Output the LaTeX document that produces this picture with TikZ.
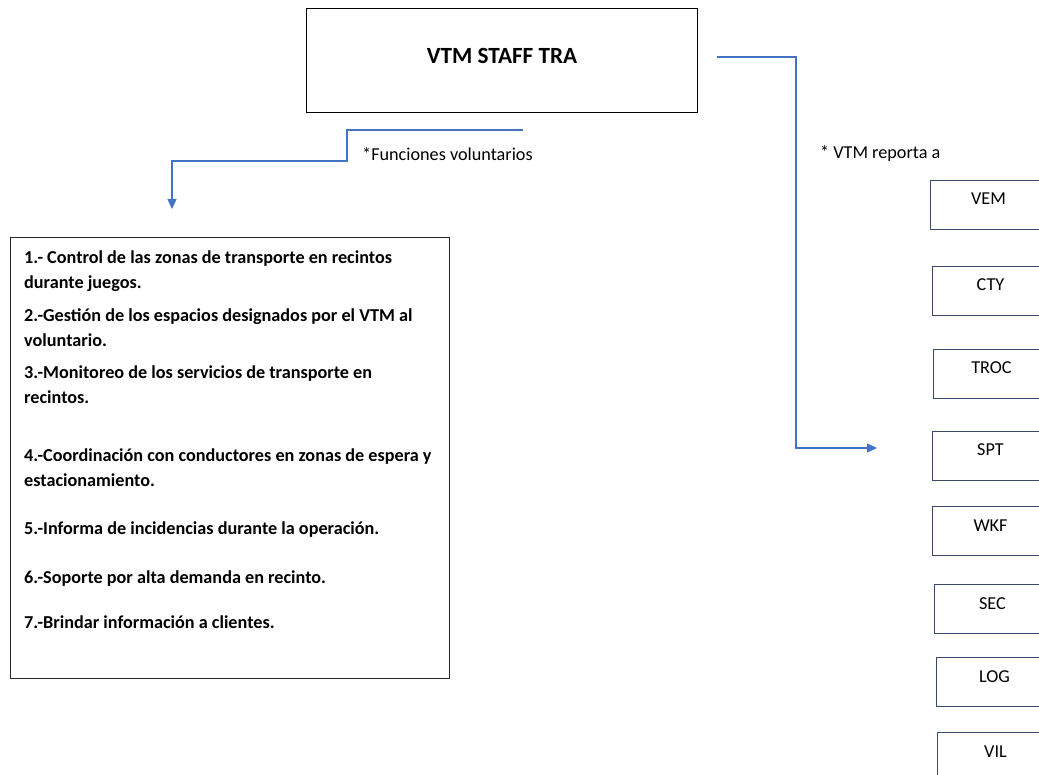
\documentclass[tikz,border=0pt]{standalone}
\usepackage{fontspec}
\setmainfont{Carlito}
\usepackage{xcolor}
\usetikzlibrary{arrows.meta,positioning}
\definecolor{linkcol}{HTML}{4472C4}
\definecolor{unitcol}{HTML}{3A4A6B}
\definecolor{listcol}{HTML}{262626}

\begin{document}
\begin{tikzpicture}[x=1pt, y=-1pt,
  every node/.style={font=\fontsize{18.2}{22}\selectfont},
  head/.style={draw=black, line width=1.1pt, anchor=north west,
               minimum width=391pt, minimum height=104pt,
               text height=16pt, text depth=11pt,
               font=\fontsize{23.2}{27}\selectfont\bfseries},
  unit/.style={draw=unitcol, line width=1pt, anchor=north west,
               minimum width=116pt, minimum height=49pt,
               text height=12pt, text depth=12pt},
  frame/.style={draw=listcol, line width=1.1pt, anchor=north west,
                minimum width=439pt, minimum height=441pt},
  duty/.style={anchor=base west, inner sep=0pt, align=left,
               font=\fontsize{18.2}{25}\selectfont\bfseries},
  note/.style={anchor=west, inner sep=0pt},
  link/.style={draw=linkcol, line width=1.2pt,
               -{Triangle[length=10pt,width=9pt]}}]

  \useasboundingbox (0,0) rectangle (1039,775);
  \clip (0,0) rectangle (1039,775);

  \node[head] (staff) at (306,8) {VTM STAFF TRA};

  % functions of the volunteer
  \node[frame] (duties) at (10,237) {};
  \node[duty] (d1) at (24,289) {1.- Control de las zonas de transporte en recintos\\durante juegos.};
  \node[duty] (d2) at (24,347) {2.-Gestión de los espacios designados por el VTM al\\voluntario.};
  \node[duty] (d3) at (24,404) {3.-Monitoreo de los servicios de transporte en\\recintos.};
  \node[duty] (d4) at (24,486) {4.-Coordinación con conductores en zonas de espera y\\estacionamiento.};
  \node[duty] (d5) at (24,534) {5.-Informa de incidencias durante la operación.};
  \node[duty] (d6) at (24,583) {6.-Soporte por alta demanda en recinto.};
  \node[duty] (d7) at (24,628) {7.-Brindar información a clientes.};

  \node[note] (fnote) at (362,154) {*Funciones voluntarios};
  \node[note] (rnote) at (820,154) {* VTM reporta a};

  % areas the VTM reports to
  \foreach \u/\x/\y in {VEM/930/180, CTY/932/266, TROC/933/349, SPT/932/431,
                        WKF/932/506, SEC/934/584, LOG/936/657, VIL/937/732}
    \node[unit] (\u) at (\x,\y) {\u};

  \coordinate (fstart) at (523,130);
  \coordinate (fend) at (172,209);
  \draw[link] (fstart) -- ++(-176,0) -- ++(0,31) -| (fend);

  \coordinate (rstart) at (717,57);
  \coordinate (rend) at (877,448);
  \draw[link] (rstart) -- ++(79,0) |- (rend);
\end{tikzpicture}
\end{document}
